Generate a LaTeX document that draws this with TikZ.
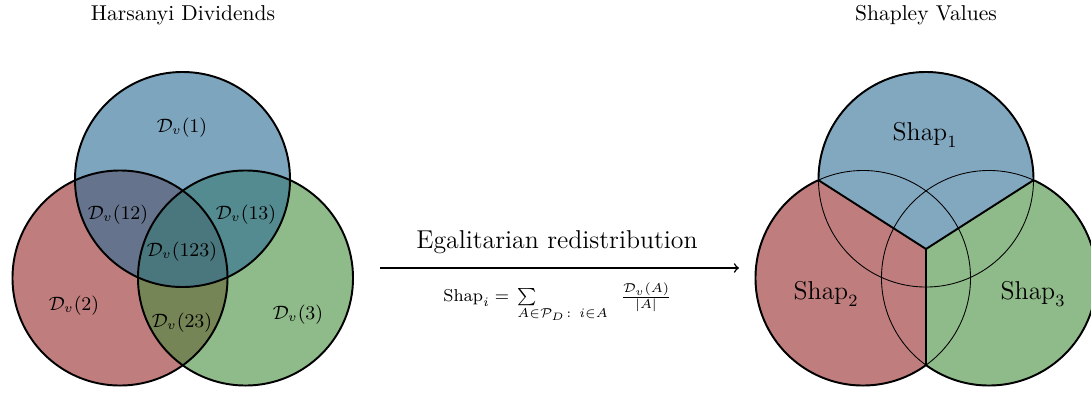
\documentclass[tikz,border=0pt]{standalone}
\usepackage{amsmath}
\usepackage{amssymb}
\usepackage{mathtools}
\begin{document}
\begin{tikzpicture}[x=0.465pt,y=-0.465pt,
  venn/.style={line width=0.9pt},
  thinc/.style={line width=0.4pt},
  lbl/.style={font=\small},
  big/.style={font=\large}]
\definecolor{cblue}{RGB}{47,110,150}
\definecolor{cred}{RGB}{150,38,40}
\definecolor{cgreen}{RGB}{68,140,58}
\useasboundingbox (0,0) rectangle (1091,392);
% ---------- left Venn ----------
\coordinate (T) at (182.5,179.5);
\coordinate (L) at (120,278);
\coordinate (R) at (245.5,278);
\fill[cred,fill opacity=0.6] (L) circle[radius=50pt];
\fill[cgreen,fill opacity=0.6] (R) circle[radius=50pt];
\fill[cblue,fill opacity=0.62] (T) circle[radius=50pt];
\draw[venn] (L) circle[radius=50pt];
\draw[venn] (R) circle[radius=50pt];
\draw[venn] (T) circle[radius=50pt];
\node[lbl] (d1) at (182,128) {$\mathcal{D}_v(1)$};
\node[lbl] (d12) at (118,215) {$\mathcal{D}_v(12)$};
\node[lbl] (d13) at (246,215) {$\mathcal{D}_v(13)$};
\node[lbl] (d123) at (182,252) {$\mathcal{D}_v(123)$};
\node[lbl] (d2) at (74,306) {$\mathcal{D}_v(2)$};
\node[lbl] (d23) at (182,323) {$\mathcal{D}_v(23)$};
\node[lbl] (d3) at (298,315) {$\mathcal{D}_v(3)$};
\node (t1) at (183,15) {Harsanyi Dividends};
% ---------- right Venn ----------
\coordinate (T2) at (926,179.5);
\coordinate (L2) at (863,278);
\coordinate (R2) at (989,278);
\coordinate (C) at (926,249);
\coordinate (P) at (818.5,180.2);
\coordinate (Q) at (1033.5,180.2);
\coordinate (B) at (926,365);
\begin{scope}
  \clip (C) -- (711,111.4) -- (711,0) -- (1141,0) -- (1141,111.4) -- cycle;
  \fill[cblue,fill opacity=0.6] (T2) circle[radius=50pt];
\end{scope}
\begin{scope}
  \clip (C) -- (711,111.4) -- (600,111.4) -- (600,500) -- (926,500) -- cycle;
  \fill[cred,fill opacity=0.6] (L2) circle[radius=50pt];
\end{scope}
\begin{scope}
  \clip (C) -- (1141,111.4) -- (1250,111.4) -- (1250,500) -- (926,500) -- cycle;
  \fill[cgreen,fill opacity=0.6] (R2) circle[radius=50pt];
\end{scope}
\draw[thinc] (T2) circle[radius=50pt];
\draw[thinc] (L2) circle[radius=50pt];
\draw[thinc] (R2) circle[radius=50pt];
\begin{scope}
  \clip (C) -- (711,111.4) -- (711,0) -- (1141,0) -- (1141,111.4) -- cycle;
  \draw[venn] (T2) circle[radius=50pt];
\end{scope}
\begin{scope}
  \clip (C) -- (711,111.4) -- (600,111.4) -- (600,500) -- (926,500) -- cycle;
  \draw[venn] (L2) circle[radius=50pt];
\end{scope}
\begin{scope}
  \clip (C) -- (1141,111.4) -- (1250,111.4) -- (1250,500) -- (926,500) -- cycle;
  \draw[venn] (R2) circle[radius=50pt];
\end{scope}
\draw[venn] (P) -- (C) -- (Q);
\draw[venn] (C) -- (B);
\node[big] (s1) at (925,135) {$\mathrm{Shap}_1$};
\node[big] (s2) at (826,294) {$\mathrm{Shap}_2$};
\node[big] (s3) at (1033,294) {$\mathrm{Shap}_3$};
\node (t2) at (926,15) {Shapley Values};
% ---------- arrow ----------
\coordinate (a0) at (380,268);
\coordinate (a1) at (739,268);
\draw[line width=0.7pt,->] (a0) -- (a1);
\node[big] (eg) at (557,242) {Egalitarian redistribution};
\node[font=\footnotesize] (fm) at (557.5,303) {$\mathrm{Shap}_i = \hspace{1.4pt}\sum\limits_{\mathrlap{\hspace{-4.4pt}A\in\mathcal{P}_D\colon\, i\in A}}\hspace{37.6pt}\frac{\mathcal{D}_v(A)}{|A|}$};
\end{tikzpicture}
\end{document}
